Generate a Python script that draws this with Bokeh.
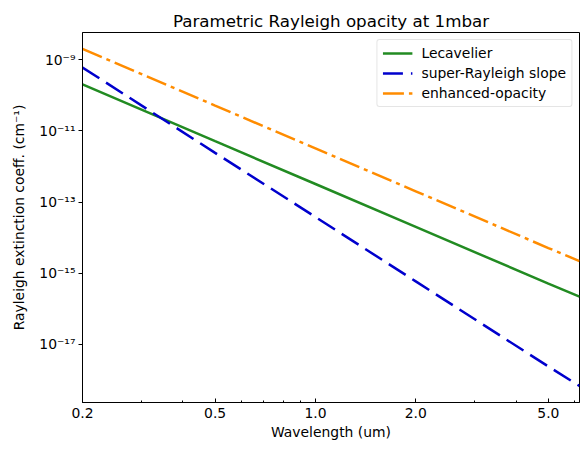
from bokeh.plotting import figure
from bokeh.models import FixedTicker, Range1d
from bokeh.embed import file_html
from bokeh.resources import INLINE

# Rayleigh extinction coefficient (cm^-1) at 1 mbar versus wavelength (um)
wavelength = [0.2, 0.5, 1.0, 2.0, 5.0, 6.2]
lecavelier = [2.0e-10, 5.1e-12, 3.2e-13, 2.0e-14, 5.1e-16, 2.2e-16]
super_rayleigh = [6.0e-10, 2.4e-12, 3.8e-14, 5.9e-16, 2.4e-18, 6.8e-19]
enhanced_opacity = [2.0e-9, 5.1e-11, 3.2e-12, 2.0e-13, 5.1e-15, 2.2e-15]

x_ticks = [0.2, 0.5, 1.0, 2.0, 5.0]
x_tick_labels = ["0.2", "0.5", "1.0", "2.0", "5.0"]
x_minor_ticks = [0.3, 0.4, 0.6, 0.7, 0.8, 0.9, 3.0, 4.0, 6.0]
y_ticks = [1e-17, 1e-15, 1e-13, 1e-11, 1e-9]
y_tick_labels = ["10⁻¹⁷", "10⁻¹⁵", "10⁻¹³", "10⁻¹¹", "10⁻⁹"]

FONT = "DejaVu Sans"
TEXT_SIZE = "13.9px"

p = figure(
    width=587, height=450,
    x_axis_type="log", y_axis_type="log",
    x_range=Range1d(0.2, 6.2),
    y_range=Range1d(10 ** -18.63, 10 ** -8.24),
    title="Parametric Rayleigh opacity at 1mbar",
    output_backend="svg", toolbar_location=None,
    min_border_left=82, min_border_right=8,
    min_border_top=32, min_border_bottom=48,
)

p.background_fill_color = "white"
p.border_fill_color = "white"
p.xgrid.visible = False
p.ygrid.visible = False
p.outline_line_color = "black"
p.outline_line_width = 1
p.outline_line_alpha = 1.0

p.title.text_font = FONT
p.title.text_font_size = "16.7px"
p.title.text_font_style = "normal"
p.title.align = "center"
p.title.text_color = "black"
p.title.standoff = 4

p.line(wavelength, lecavelier, line_color="#228B22", line_width=2.5,
       legend_label="Lecavelier")
p.line(wavelength, super_rayleigh, line_color="#0000CD", line_width=2.5,
       line_dash="20 8", legend_label="super-Rayleigh slope")
p.line(wavelength, enhanced_opacity, line_color="#FF8C00", line_width=2.5,
       line_dash="21 5 4 5", legend_label="enhanced-opacity")

# x axis: ticks pointing into the frame
xa = p.xaxis[0]
xa.ticker = FixedTicker(ticks=x_ticks, minor_ticks=x_minor_ticks)
xa.major_label_overrides = dict(zip(x_ticks, x_tick_labels))
xa.major_tick_in = 4
xa.major_tick_out = 0
xa.minor_tick_in = 2
xa.minor_tick_out = 0
xa.major_label_standoff = 5
xa.axis_label = "Wavelength (um)"
xa.axis_label_standoff = 3

# y axis: outward ticks every second decade
ya = p.yaxis[0]
ya.ticker = FixedTicker(ticks=y_ticks, minor_ticks=[])
ya.major_label_overrides = dict(zip(y_ticks, y_tick_labels))
ya.major_tick_in = 0
ya.major_tick_out = 4
ya.minor_tick_in = 0
ya.minor_tick_out = 0
ya.major_label_standoff = 3
ya.axis_label = "Rayleigh extinction coeff. (cm⁻¹)"
ya.axis_label_standoff = 9

for ax in (xa, ya):
    ax.axis_line_color = "black"
    ax.major_tick_line_color = "black"
    ax.minor_tick_line_color = "black"
    ax.major_label_text_font = FONT
    ax.major_label_text_font_size = TEXT_SIZE
    ax.major_label_text_color = "black"
    ax.axis_label_text_font = FONT
    ax.axis_label_text_font_size = TEXT_SIZE
    ax.axis_label_text_font_style = "normal"
    ax.axis_label_text_color = "black"

lg = p.legend[0]
lg.location = "top_right"
lg.margin = 7
lg.padding = 5
lg.spacing = 4
lg.glyph_width = 30
lg.glyph_height = 16
lg.label_height = 16
lg.label_standoff = 9
lg.label_text_font = FONT
lg.label_text_font_size = TEXT_SIZE
lg.label_text_color = "black"
lg.border_line_color = "#cccccc"
lg.border_line_width = 1
lg.border_radius = 3
lg.background_fill_color = "white"
lg.background_fill_alpha = 0.8

open("out.html", "w").write(file_html(p, INLINE))
